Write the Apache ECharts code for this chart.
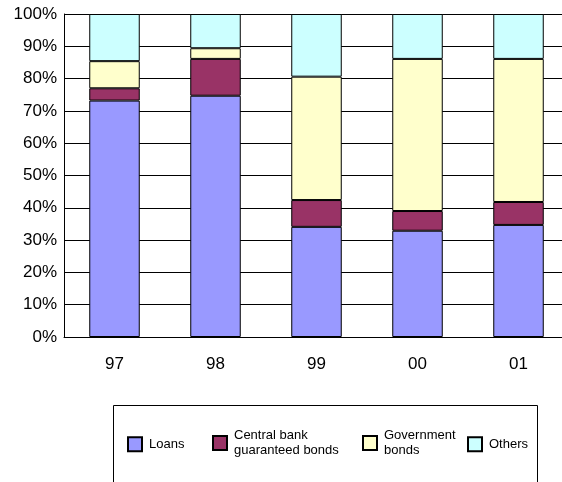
<!DOCTYPE html>
<html><head><meta charset="utf-8">
<script src="https://cdn.jsdelivr.net/npm/echarts@6/dist/echarts.min.js"></script>
<style>html,body{margin:0;padding:0;background:#fff;overflow:hidden}#c{width:570px;height:482px}</style>
</head><body><div id="c"></div>
<script>
const categories = ['97', '98', '99', '00', '01'];
const loans = [73.2, 74.7, 34.1, 32.9, 34.7];
const centralBank = [3.8, 11.4, 8.3, 6.1, 7.1];
const government = [8.4, 3.3, 38.2, 47.1, 44.3];
const others = [14.6, 10.6, 19.4, 13.9, 13.9];
const yTicks = [0, 10, 20, 30, 40, 50, 60, 70, 80, 90, 100];

const FONT = 'Liberation Sans, Arial, sans-serif';
const names = ['Loans', 'Central bank\nguaranteed bonds', 'Government\nbonds', 'Others'];
const colors = ['#9999FF', '#993366', '#FFFFCC', '#CCFFFF'];
const datas = [loans, centralBank, government, others];

function mkLegend(i, left, top, padding) {
  return {
    data: [names[i]], left: left, top: top, padding: 0, orient: 'horizontal',
    itemWidth: 14, itemHeight: 14, icon: 'rect', selectedMode: false,
    textStyle: { fontFamily: FONT, fontSize: 13, color: '#000', lineHeight: 14.5, padding: padding }
  };
}

const chart = echarts.init(document.getElementById('c'), null, { renderer: 'canvas' });
chart.setOption({
  animation: false,
  backgroundColor: '#fff',
  grid: { left: 64, top: 14, bottom: 145, width: 505, containLabel: false },
  xAxis: {
    type: 'category', data: categories,
    axisLine: { lineStyle: { color: '#000', width: 1 } },
    axisTick: { inside: true, length: 5, lineStyle: { color: '#000' } },
    axisLabel: { fontFamily: FONT, fontSize: 17, color: '#000', margin: 19 }
  },
  yAxis: {
    type: 'value', min: yTicks[0], max: yTicks[yTicks.length - 1], interval: yTicks[1] - yTicks[0],
    axisLine: { show: true, lineStyle: { color: '#000', width: 1 } },
    axisTick: { show: false },
    splitLine: { lineStyle: { color: '#000', width: 1 } },
    axisLabel: { fontFamily: FONT, fontSize: 17, color: '#000', margin: 7, formatter: '{value}%' }
  },
  legend: [
    mkLegend(0, 127, 434.5, [0, 0, 5, 2]),
    mkLegend(1, 212, 423.5, [10, 0, 0, 2]),
    mkLegend(2, 362, 423.5, [10, 0, 0, 2]),
    mkLegend(3, 467, 434.5, [0, 0, 5, 2])
  ],
  graphic: [{
    type: 'rect', shape: { x: 113.5, y: 405.5, width: 424, height: 100 },
    style: { fill: 'none', stroke: '#000', lineWidth: 1 }, silent: true, z: -1
  }],
  series: datas.map((d, i) => ({
    name: names[i], type: 'bar', stack: 'total', data: d, barWidth: '50%',
    itemStyle: { color: colors[i], borderColor: '#000', borderWidth: 1 }
  }))
});
</script>
</body></html>
